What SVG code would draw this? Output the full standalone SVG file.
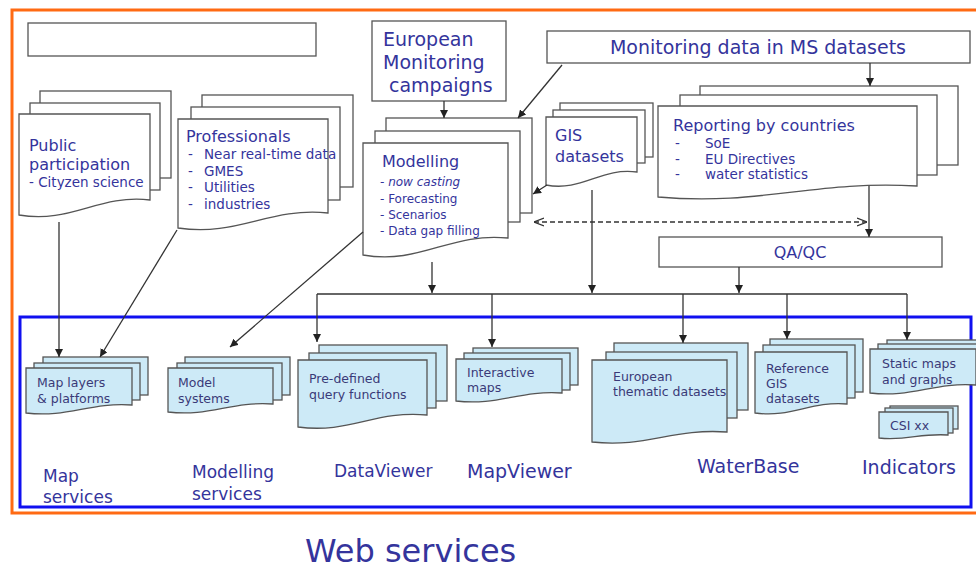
<svg xmlns="http://www.w3.org/2000/svg" width="976" height="582" viewBox="0 0 976 582">
<style>
text{font-family:"DejaVu Sans",Verdana,sans-serif;fill:#34349c}
.pg{fill:#fff;stroke:#555;stroke-width:1.3}
.lb{fill:#cdeaf7;stroke:#555;stroke-width:1.3}
.bx{fill:#fff;stroke:#555;stroke-width:1.3}
.ln{fill:none;stroke:#333;stroke-width:1.3}
.t16{font-size:16px}
.t13{font-size:13.5px}
.t12{font-size:12px}
.lt{font-size:12.5px;fill:#3a3a78}
.big{font-size:19px}
.sv{font-size:17px}
</style>
<defs>
<marker id="ah" viewBox="0 0 10 10" refX="10" refY="5" markerWidth="8" markerHeight="8" markerUnits="userSpaceOnUse" orient="auto"><path d="M0,0 L10,5 L0,10 Z" fill="#222"/></marker>
<marker id="oa" viewBox="0 0 10 10" refX="10" refY="5" markerWidth="10" markerHeight="10" markerUnits="userSpaceOnUse" orient="auto-start-reverse"><path d="M0,1 L10,5 L0,9" fill="none" stroke="#333" stroke-width="1.3"/></marker>
</defs>
<rect width="976" height="582" fill="#fff"/>
<rect x="12" y="10" width="975" height="503" fill="none" stroke="#ff6a13" stroke-width="3"/>
<rect x="20" y="317" width="951" height="190" fill="none" stroke="#1010f0" stroke-width="3"/>

<g id="empty-box"><rect class="bx" x="28" y="23" width="288" height="33"/></g>
<g id="european-monitoring"><rect class="bx" x="372" y="21" width="134" height="80"/>
<text class="big" x="383" y="46">European</text><text class="big" x="383" y="69">Monitoring</text><text class="big" x="389" y="92">campaigns</text></g>
<g id="monitoring-data"><rect class="bx" x="547" y="31" width="423" height="32"/>
<text class="big" x="758" y="54" text-anchor="middle">Monitoring data in MS datasets</text></g>

<g id="public-participation">
<rect class="pg" x="40" y="91" width="131" height="87"/><rect class="pg" x="30" y="103" width="130" height="87"/>
<path class="pg" d="M19,114 H150 V200 C98,194 71,224 19,215 Z"/>
<text class="t16" x="29" y="151">Public</text><text class="t16" x="29" y="170">participation</text>
<text class="t13" x="29" y="187">- Cityzen science</text></g>

<g id="professionals">
<rect class="pg" x="202" y="95" width="151" height="92"/><rect class="pg" x="191" y="107" width="149" height="93"/>
<path class="pg" d="M178,119 H328 V213 C268,207 238,237 178,228 Z"/>
<text class="t16" x="186" y="142">Professionals</text>
<text class="t13" x="188" y="159">-</text><text class="t13" x="204" y="159">Near real-time data</text>
<text class="t13" x="188" y="176">-</text><text class="t13" x="204" y="176">GMES</text>
<text class="t13" x="188" y="192">-</text><text class="t13" x="204" y="192">Utilities</text>
<text class="t13" x="188" y="209">-</text><text class="t13" x="204" y="209">industries</text></g>

<g id="modelling">
<rect class="pg" x="386" y="118" width="146" height="95"/><rect class="pg" x="375" y="131" width="145" height="91"/>
<path class="pg" d="M363,143 H508 V238 C450,232 421,265 363,255 Z"/>
<text class="t16" x="382" y="167">Modelling</text>
<text class="t12" x="380" y="186" font-style="italic">- now casting</text>
<text class="t12" x="380" y="203">- Forecasting</text>
<text class="t12" x="380" y="219">- Scenarios</text>
<text class="t12" x="380" y="235">- Data gap filling</text></g>

<g id="gis-datasets">
<rect class="pg" x="560" y="103" width="93" height="54"/><rect class="pg" x="553" y="110" width="92" height="53"/>
<path class="pg" d="M546,117 H637 V172 C601,167 582,192 546,185 Z"/>
<text class="t16" x="555" y="141">GIS</text><text class="t16" x="555" y="162">datasets</text></g>

<g id="reporting">
<rect class="pg" x="700" y="86" width="258" height="79"/><rect class="pg" x="680" y="95" width="257" height="80"/>
<path class="pg" d="M658,106 H917 V186 C813,180 762,206 658,197 Z"/>
<text class="t16" x="673" y="131">Reporting by countries</text>
<text class="t13" x="675" y="148">-</text><text class="t13" x="705" y="148">SoE</text>
<text class="t13" x="675" y="164">-</text><text class="t13" x="705" y="164">EU Directives</text>
<text class="t13" x="675" y="179">-</text><text class="t13" x="705" y="179">water statistics</text></g>

<g id="qaqc"><rect class="bx" x="659" y="237" width="283" height="30"/>
<text class="t16" x="800" y="258" text-anchor="middle">QA/QC</text></g>

<g id="map-layers">
<rect class="lb" x="43" y="357" width="105" height="38"/><rect class="lb" x="34" y="363" width="106" height="37"/>
<path class="lb" d="M26,368 H132 V405 C90,402 68,418 26,413 Z"/>
<text class="lt" x="37" y="387">Map layers</text><text class="lt" x="37" y="403">&amp; platforms</text></g>

<g id="model-systems">
<rect class="lb" x="185" y="357" width="105" height="38"/><rect class="lb" x="177" y="363" width="105" height="37"/>
<path class="lb" d="M168,368 H273 V404 C231,401 210,417 168,412 Z"/>
<text class="lt" x="178" y="387">Model</text><text class="lt" x="178" y="403">systems</text></g>

<g id="predefined-query">
<rect class="lb" x="319" y="345" width="128" height="56"/><rect class="lb" x="309" y="353" width="127" height="55"/>
<path class="lb" d="M298,360 H427 V415 C375,410 350,434 298,427 Z"/>
<text class="lt" x="309" y="383">Pre-defined</text><text class="lt" x="309" y="399">query functions</text></g>

<g id="interactive-maps">
<rect class="lb" x="473" y="348" width="105" height="37"/><rect class="lb" x="464" y="353" width="106" height="37"/>
<path class="lb" d="M456,359 H562 V393 C520,390 498,406 456,401 Z"/>
<text class="lt" x="467" y="377">Interactive</text><text class="lt" x="467" y="392">maps</text></g>

<g id="european-thematic">
<rect class="lb" x="614" y="343" width="134" height="67"/><rect class="lb" x="606" y="352" width="131" height="66"/>
<path class="lb" d="M592,360 H727 V432 C673,428 646,448 592,442 Z"/>
<text class="lt" x="613" y="381">European</text><text class="lt" x="613" y="396">thematic datasets</text></g>

<g id="reference-gis">
<rect class="lb" x="770" y="339" width="93" height="53"/><rect class="lb" x="763" y="345" width="92" height="53"/>
<path class="lb" d="M755,352 H847 V404 C810,401 792,418 755,413 Z"/>
<text class="lt" x="766" y="373">Reference</text><text class="lt" x="766" y="388">GIS</text><text class="lt" x="766" y="403">datasets</text></g>

<g id="static-maps">
<rect class="lb" x="887" y="340" width="93" height="35"/><rect class="lb" x="878" y="344" width="102" height="36"/>
<path class="lb" d="M870,349 H976 V385 C934,382 912,398 870,393 Z"/>
<text class="lt" x="882" y="368">Static maps</text><text class="lt" x="882" y="384">and graphs</text></g>

<g id="csi">
<rect class="lb" x="890" y="406" width="68" height="23"/><rect class="lb" x="885" y="408" width="68" height="25"/>
<path class="lb" d="M879,412 H948 V435 C920,433 907,441 879,438 Z"/>
<text class="lt" x="890" y="430">CSI xx</text></g>

<g id="labels">
<text class="sv" x="43" y="482">Map</text><text class="sv" x="43" y="503">services</text>
<text class="sv" x="192" y="478">Modelling</text><text class="sv" x="192" y="500">services</text>
<text class="sv" x="334" y="477">DataViewer</text>
<text class="big" x="467" y="478">MapViewer</text>
<text class="big" x="697" y="473">WaterBase</text>
<text class="big" x="862" y="474">Indicators</text>
<text x="305" y="562" font-size="32">Web services</text>
</g>

<g id="connectors">
<line class="ln" x1="444" y1="101" x2="444" y2="118" marker-end="url(#ah)"/>
<line class="ln" x1="562" y1="65" x2="518" y2="118" marker-end="url(#ah)"/>
<line class="ln" x1="870" y1="63" x2="870" y2="86" marker-end="url(#ah)"/>
<line class="ln" x1="547" y1="185" x2="533" y2="194" marker-end="url(#ah)"/>
<line class="ln" x1="534" y1="222" x2="867" y2="222" stroke-dasharray="5,3" marker-start="url(#oa)" marker-end="url(#oa)"/>
<line class="ln" x1="869" y1="186" x2="869" y2="237" marker-end="url(#ah)"/>
<line class="ln" x1="739" y1="267" x2="739" y2="293" marker-end="url(#ah)"/>
<line class="ln" x1="432" y1="262" x2="432" y2="293" marker-end="url(#ah)"/>
<line class="ln" x1="592" y1="190" x2="592" y2="293" marker-end="url(#ah)"/>
<line class="ln" x1="317" y1="294" x2="907" y2="294"/>
<line class="ln" x1="317" y1="294" x2="317" y2="342" marker-end="url(#ah)"/>
<line class="ln" x1="492" y1="294" x2="492" y2="347" marker-end="url(#ah)"/>
<line class="ln" x1="683" y1="294" x2="683" y2="343" marker-end="url(#ah)"/>
<line class="ln" x1="787" y1="294" x2="787" y2="339" marker-end="url(#ah)"/>
<line class="ln" x1="907" y1="294" x2="907" y2="340" marker-end="url(#ah)"/>
<line class="ln" x1="59" y1="222" x2="59" y2="357" marker-end="url(#ah)"/>
<line class="ln" x1="177" y1="230" x2="100" y2="357" marker-end="url(#ah)"/>
<line class="ln" x1="363" y1="232" x2="230" y2="347" marker-end="url(#ah)"/>
</g>
</svg>
